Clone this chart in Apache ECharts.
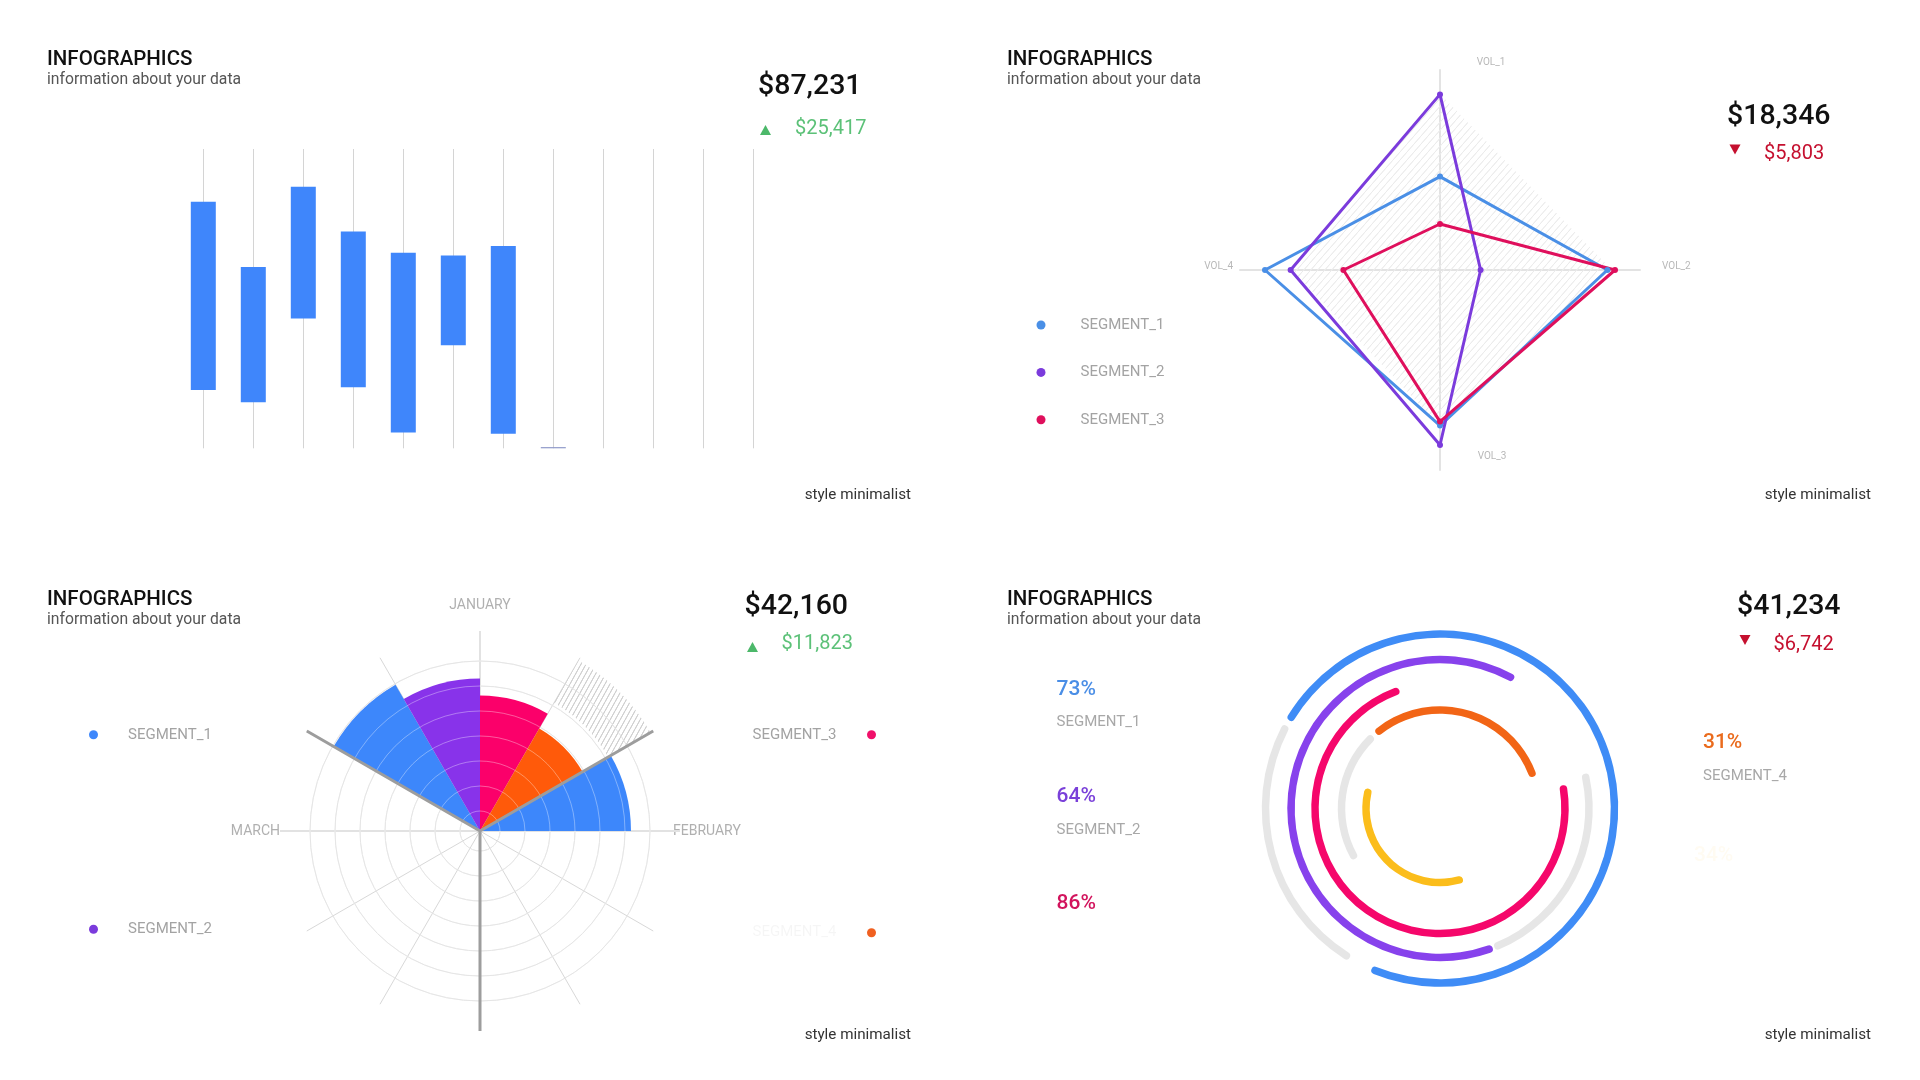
<!DOCTYPE html>
<html><head><meta charset="utf-8">
<script src="https://cdn.jsdelivr.net/npm/echarts@6/dist/echarts.min.js"></script>
<style>html,body{margin:0;padding:0;background:#fff}#c{width:1920px;height:1080px}</style>
</head><body><div id="c"></div>
<script>
// ---------------- DATA ----------------
const barCategories = ['W01','W02','W03','W04','W05','W06','W07','W08','W09','W10','W11','W12'];
const barLow  = [19.5, 15.4, 43.4, 20.4, 5.3, 34.4, 4.9, 0,   null, null, null, null];
const barHigh = [82.4, 60.6, 87.4, 72.4, 65.3, 64.4, 67.6, 0.4, null, null, null, null];

const radarIndicators = ['VOL_1','VOL_2','VOL_3','VOL_4'];
const radarSeg1 = [46.7, 83.7, 77.8, 87.5];
const radarSeg2 = [87.8, 20.3, 87.5, 74.7];
const radarSeg3 = [23.0, 87.5, 75.8, 48.3];
const radarShade = [88, 86, 78, 74];

const segmentNames = ['SEGMENT_1','SEGMENT_2','SEGMENT_3','SEGMENT_4'];

const roseMonths = ['JANUARY','FEBRUARY','','MARCH'];
const roseSectors = ['S01','S02','S03','S04','S05','S06','S07','S08','S09','S10','S11','S12'];
const roseSeg1 = [0, 0, 6.04, 0, 0, 0, 0, 0, 0, 0, 6.76, 0];
const roseSeg2 = [0, 0, 0, 0, 0, 0, 0, 0, 0, 0, 0, 6.1];
const roseSeg3 = [5.42, 0, 0, 0, 0, 0, 0, 0, 0, 0, 0, 0];
const roseSeg4 = [0, 4.74, 0, 0, 0, 0, 0, 0, 0, 0, 0, 0];
const roseShadeGap = [0, 1.18, 0, 0, 0, 0, 0, 0, 0, 0, 0, 0];
const roseShade = [0, 1.96, 0, 0, 0, 0, 0, 0, 0, 0, 0, 0];

const ringPercent = [73, 64, 72.7, 31, 34.3];
const ringTrackPercent = [24.2, 22.8, 0, 21.6, 0];
const ringLabels = ['73%', '64%', '86%', '31%', '34%'];

const headlineValues = ['$87,231', '$18,346', '$42,160', '$41,234'];
const deltaValues = ['$25,417', '$5,803', '$11,823', '$6,742'];
const deltaUp = [true, false, true, false];

// ---------------- STYLE / LAYOUT ----------------
const FONT = 'Roboto, "Noto Sans", sans-serif';
const GREEN = '#5cc178', GREEN_TRI = '#4cb86a', RED = '#c5102f';

function hatch(color, w, h, lw) {
  const c = document.createElement('canvas');
  c.width = w; c.height = h;
  const g = c.getContext('2d');
  g.strokeStyle = color; g.lineWidth = lw;
  g.beginPath();
  g.moveTo(0, h); g.lineTo(w, 0);
  g.moveTo(-w, h); g.lineTo(0, 0);
  g.moveTo(w, h); g.lineTo(2 * w, 0);
  g.moveTo(-w / 2, h * 1.5); g.lineTo(w * 1.5, -h / 2);
  g.stroke();
  return c;
}
const radarHatch = { image: hatch('#ececec', 7, 8, 1), repeat: 'repeat' };
const roseHatch = { image: hatch('#cfcfcf', 5, 9, 1), repeat: 'repeat' };

const ringLayout = [
  { r: 174.5, start: 149.7, cw: true,  color: '#3f8cf6', trackGap: 8.1 },
  { r: 149,   start: 60.3,  cw: false, color: '#8742ec', trackGap: 0.7 },
  { r: 125,   start: 109,   cw: false, color: '#f5076b', trackGap: 0 },
  { r: 98.5,  start: 130.4, cw: true,  color: '#f26516', trackGap: 168.1 },
  { r: 74,    start: 164.5, cw: false, color: '#fbbd1b', trackGap: 0 }
];
const RING_W = 7.5, RING_CENTER = [1440, 808.5];
const TRANSPARENT = 'rgba(0,0,0,0)';

const ROSE_CENTER = [480, 831];

// ---------------- SERIES ----------------
const series = [];

// Top-left floating bars
series.push({
  type: 'bar', xAxisIndex: 0, yAxisIndex: 0, stack: 'float', silent: true,
  barWidth: 25, clip: false,
  itemStyle: { color: TRANSPARENT },
  data: barLow
});
series.push({
  type: 'bar', xAxisIndex: 0, yAxisIndex: 0, stack: 'float', silent: true,
  barWidth: 25, clip: false,
  data: barHigh.map((h, i) => h == null ? null : {
    value: +(h - barLow[i]).toFixed(2),
    itemStyle: { color: (h - barLow[i]) < 1 ? '#8e99c9' : '#3f86fb' }
  })
});

// Radar
const radarOrder = [0, 3, 2, 1]; // top, left, bottom, right
const reorder = a => radarOrder.map(i => a[i]);
series.push({
  type: 'radar', radarIndex: 0, silent: true,
  data: [
    { name: 'shade', value: reorder(radarShade), symbol: 'none',
      lineStyle: { width: 0, opacity: 0 }, areaStyle: { color: radarHatch, opacity: 1 } },
    { name: segmentNames[0], value: reorder(radarSeg1), symbol: 'circle', symbolSize: 6,
      itemStyle: { color: '#4a8fe6' }, lineStyle: { color: '#4a8fe6', width: 3 } },
    { name: segmentNames[1], value: reorder(radarSeg2), symbol: 'circle', symbolSize: 6,
      itemStyle: { color: '#7b3bdc' }, lineStyle: { color: '#7b3bdc', width: 3 } },
    { name: segmentNames[2], value: reorder(radarSeg3), symbol: 'circle', symbolSize: 6,
      itemStyle: { color: '#df0f5c' }, lineStyle: { color: '#df0f5c', width: 3 } }
  ]
});

// Rose (polar bars)
const roseBar = (name, data, color) => ({
  type: 'bar', coordinateSystem: 'polar', polarIndex: 4, name: name, stack: 'rose',
  barCategoryGap: '0%', silent: true, data: data, itemStyle: { color: color }
});
series.push(roseBar(segmentNames[0], roseSeg1, '#3d87fb'));
series.push(roseBar(segmentNames[1], roseSeg2, '#8833ea'));
series.push(roseBar(segmentNames[2], roseSeg3, '#fb006a'));
series.push(roseBar(segmentNames[3], roseSeg4, '#ff5a0a'));
series.push(roseBar('shade gap', roseShadeGap, TRANSPARENT));
series.push(roseBar('shade', roseShade, roseHatch));

// Rings (pies)
ringLayout.forEach((L, i) => {
  const arc = ringPercent[i] * 3.6;
  const track = ringTrackPercent[i] * 3.6;
  const data = [{ value: arc, itemStyle: { color: L.color } }];
  let used = arc;
  if (track > 0) {
    data.push({ value: L.trackGap, itemStyle: { color: TRANSPARENT } });
    data.push({ value: track, itemStyle: { color: '#e6e6e6' } });
    used += L.trackGap + track;
  }
  data.push({ value: Math.max(360 - used, 0.001), itemStyle: { color: TRANSPARENT } });
  series.push({
    type: 'pie', center: RING_CENTER, radius: [L.r - RING_W / 2, L.r + RING_W / 2],
    startAngle: L.start, clockwise: L.cw, silent: true, minAngle: 0,
    label: { show: false }, labelLine: { show: false },
    emphasis: { disabled: true },
    itemStyle: { borderRadius: RING_W / 2, borderWidth: 0 },
    data: data, z: 2 + (ringLayout.length - i)
  });
});

// ---------------- GRAPHIC TEXTS ----------------
const graphics = [];
const txt = (text, x, y, o) => graphics.push({
  type: 'text', x: x, y: y, silent: true,
  style: Object.assign({ text: text, fill: '#333', fontSize: 15, fontFamily: FONT,
    textAlign: 'left', textVerticalAlign: 'middle' }, o || {})
});
const quads = [[0, 0], [960, 0], [0, 540], [960, 540]];
quads.forEach(([ox, oy]) => {
  txt('INFOGRAPHICS', ox + 47, oy + 59.5, { fill: '#111', fontSize: 20.5, fontWeight: 500 });
  txt('information about your data', ox + 47, oy + 80.5, { fill: '#555', fontSize: 15.7 });
  txt('style minimalist', ox + 911, oy + 495, { fill: '#333', fontSize: 15.2, textAlign: 'right' });
});
const headPos = [[758, 86.5], [1727, 116.5], [744.5, 607], [1737, 606.5]];
const deltaPos = [[795, 129], [1764, 154], [781.5, 644], [1773.5, 644.5]];
const triPos = [[765.5, 130], [1735, 149.5], [752.5, 647], [1745, 640]];
headlineValues.forEach((v, i) => {
  txt(v, headPos[i][0], headPos[i][1], { fill: '#111', fontSize: 28.5, fontWeight: 500 });
  txt(deltaValues[i], deltaPos[i][0], deltaPos[i][1], { fill: deltaUp[i] ? GREEN : RED, fontSize: 20 });
  const [cx, cy] = triPos[i], hw = 5.5, hh = 5;
  graphics.push({ type: 'polygon', silent: true,
    shape: { points: deltaUp[i]
      ? [[cx - hw, cy + hh], [cx + hw, cy + hh], [cx, cy - hh]]
      : [[cx - hw, cy - hh], [cx + hw, cy - hh], [cx, cy + hh]] },
    style: { fill: deltaUp[i] ? GREEN_TRI : RED } });
});
// radar axis names
const volStyle = { fill: '#b8b8b8', fontSize: 10 };
txt(radarIndicators[0], 1491, 62, Object.assign({ textAlign: 'center' }, volStyle));
txt(radarIndicators[1], 1662, 266, Object.assign({ textAlign: 'left' }, volStyle));
txt(radarIndicators[2], 1492, 456, Object.assign({ textAlign: 'center' }, volStyle));
txt(radarIndicators[3], 1233, 266, Object.assign({ textAlign: 'right' }, volStyle));
// ring labels
const ringTextPos = [[1056.6, 689.7], [1056.6, 796.6], [1056.6, 903.5], [1703, 743], [1694, 855.5]];
const ringTextColor = ['#4a8ee6', '#7a40d9', '#d2145d', '#ea6b1d', 'rgba(251,189,27,0.06)'];
ringLabels.forEach((t, i) => {
  txt(t, ringTextPos[i][0], ringTextPos[i][1], { fill: ringTextColor[i], fontSize: 21, fontWeight: 500 });
});
txt(segmentNames[0], 1056.6, 722.5, { fill: '#a8a8a8', fontSize: 15 });
txt(segmentNames[1], 1056.6, 830, { fill: '#a8a8a8', fontSize: 15 });
txt(segmentNames[3], 1703, 776, { fill: '#a8a8a8', fontSize: 15 });

// ---------------- OPTION ----------------
const legendText = { color: '#a3a3a3', fontSize: 15, fontFamily: FONT };
const option = {
  backgroundColor: '#ffffff',
  animation: false,
  textStyle: { fontFamily: FONT },
  grid: [{ left: 203.3, right: 1166.7, top: 149, bottom: 631.7 }],
  xAxis: [{
    gridIndex: 0, type: 'category', data: barCategories, boundaryGap: false,
    axisLine: { show: false }, axisTick: { show: false }, axisLabel: { show: false },
    splitLine: { show: true, lineStyle: { color: '#d4d4d4', width: 1 } }
  }],
  yAxis: [{
    gridIndex: 0, type: 'value', min: 0, max: 100,
    axisLine: { show: false }, axisTick: { show: false }, axisLabel: { show: false },
    splitLine: { show: false }
  }],
  radar: [{
    center: [1440, 270], radius: 200, startAngle: 90, shape: 'polygon', splitNumber: 1,
    indicator: reorder(radarIndicators).map(n => ({ name: n, max: 100 })),
    axisName: { show: false },
    axisLine: { lineStyle: { color: '#e3e3e3', width: 2 } },
    splitLine: { show: false }, splitArea: { show: false }
  }],
  polar: [
    { center: ROSE_CENTER, radius: [20, 170] },
    { center: ROSE_CENTER, radius: [0, 200] },
    { center: ROSE_CENTER, radius: [0, 200] },
    { center: ROSE_CENTER, radius: [0, 200] },
    { center: ROSE_CENTER, radius: [0, 200] },
    { center: ROSE_CENTER, radius: [20, 170] }
  ],
  angleAxis: [
    { polarIndex: 0, type: 'value', min: 0, max: 360, show: false },
    { polarIndex: 1, type: 'category', data: roseSectors, boundaryGap: true, startAngle: 90,
      axisLine: { show: false }, axisTick: { show: false }, axisLabel: { show: false },
      splitLine: { show: true, lineStyle: { color: '#d8d8d8', width: 1 } } },
    { polarIndex: 2, type: 'category', data: roseMonths, boundaryGap: false, startAngle: 90,
      axisLine: { show: false }, axisTick: { show: false },
      axisLabel: { show: true, color: '#b0b0b0', fontSize: 14, margin: -7,
        formatter: v => v === roseMonths[0] ? '{top|' + v + '}' : (v === roseMonths[3] ? '{left|' + v + '}' : v),
        rich: {
          top: { color: '#b0b0b0', fontSize: 14, padding: [0, 0, 26, 0] },
          left: { color: '#b0b0b0', fontSize: 14, padding: [0, 7, 0, 0] }
        } },
      splitLine: { show: true, lineStyle: { color: '#e2e2e2', width: 2 } } },
    { polarIndex: 3, type: 'category', data: ['A', 'B', 'C'], boundaryGap: true, startAngle: 30,
      axisLine: { show: false }, axisTick: { show: false }, axisLabel: { show: false },
      splitLine: { show: true, lineStyle: { color: '#9d9d9d', width: 3 } }, z: 10 },
    { polarIndex: 4, type: 'category', data: roseSectors, boundaryGap: true, startAngle: 90, show: false },
    { polarIndex: 5, type: 'value', min: 0, max: 360, show: false }
  ],
  radiusAxis: [
    { polarIndex: 0, type: 'value', min: 0, max: 6, interval: 1,
      axisLine: { show: false }, axisTick: { show: false }, axisLabel: { show: false },
      splitLine: { show: true, lineStyle: { color: '#d8d8d8', width: 1 } } },
    { polarIndex: 1, type: 'value', show: false },
    { polarIndex: 2, type: 'value', show: false },
    { polarIndex: 3, type: 'value', show: false },
    { polarIndex: 4, type: 'value', min: 0, max: 8, show: false },
    { polarIndex: 5, type: 'value', min: 0, max: 6, interval: 1, z: 5,
      axisLine: { show: false }, axisTick: { show: false }, axisLabel: { show: false },
      splitLine: { show: true, lineStyle: { color: 'rgba(255,255,255,0.35)', width: 1 } } }
  ],
  legend: [
    { orient: 'vertical', left: 1036.5, top: 317.5, itemWidth: 9, itemHeight: 9, itemGap: 32.4,
      icon: 'circle', selectedMode: false, padding: 0,
      textStyle: Object.assign({ padding: [0, 0, 0, 30] }, legendText),
      data: [
        { name: segmentNames[0], itemStyle: { color: '#4a8fe6' } },
        { name: segmentNames[1], itemStyle: { color: '#7b3bdc' } },
        { name: segmentNames[2], itemStyle: { color: '#df0f5c' } }
      ] },
    { orient: 'vertical', left: 89, top: 727.3, itemWidth: 9, itemHeight: 9, itemGap: 179.5,
      icon: 'circle', selectedMode: false, padding: 0,
      textStyle: Object.assign({ padding: [0, 0, 0, 25] }, legendText),
      data: [
        { name: segmentNames[0], itemStyle: { color: '#3d87fb' } },
        { name: segmentNames[1], itemStyle: { color: '#7b3bdc' } }
      ] },
    { orient: 'vertical', right: 1044, top: 727.3, itemWidth: 9, itemHeight: 9, itemGap: 182.9,
      icon: 'circle', align: 'right', selectedMode: false, padding: 0,
      textStyle: Object.assign({ padding: [0, 25.5, 0, 0] }, legendText),
      data: [
        { name: segmentNames[2], itemStyle: { color: '#f0106a' } },
        { name: segmentNames[3], itemStyle: { color: '#f06020' },
          textStyle: { color: 'rgba(0,0,0,0.04)' } }
      ] }
  ],
  graphic: { elements: graphics },
  series: series
};

const chart = echarts.init(document.getElementById('c'), null, { renderer: 'canvas' });
chart.setOption(option);
</script>
</body></html>
